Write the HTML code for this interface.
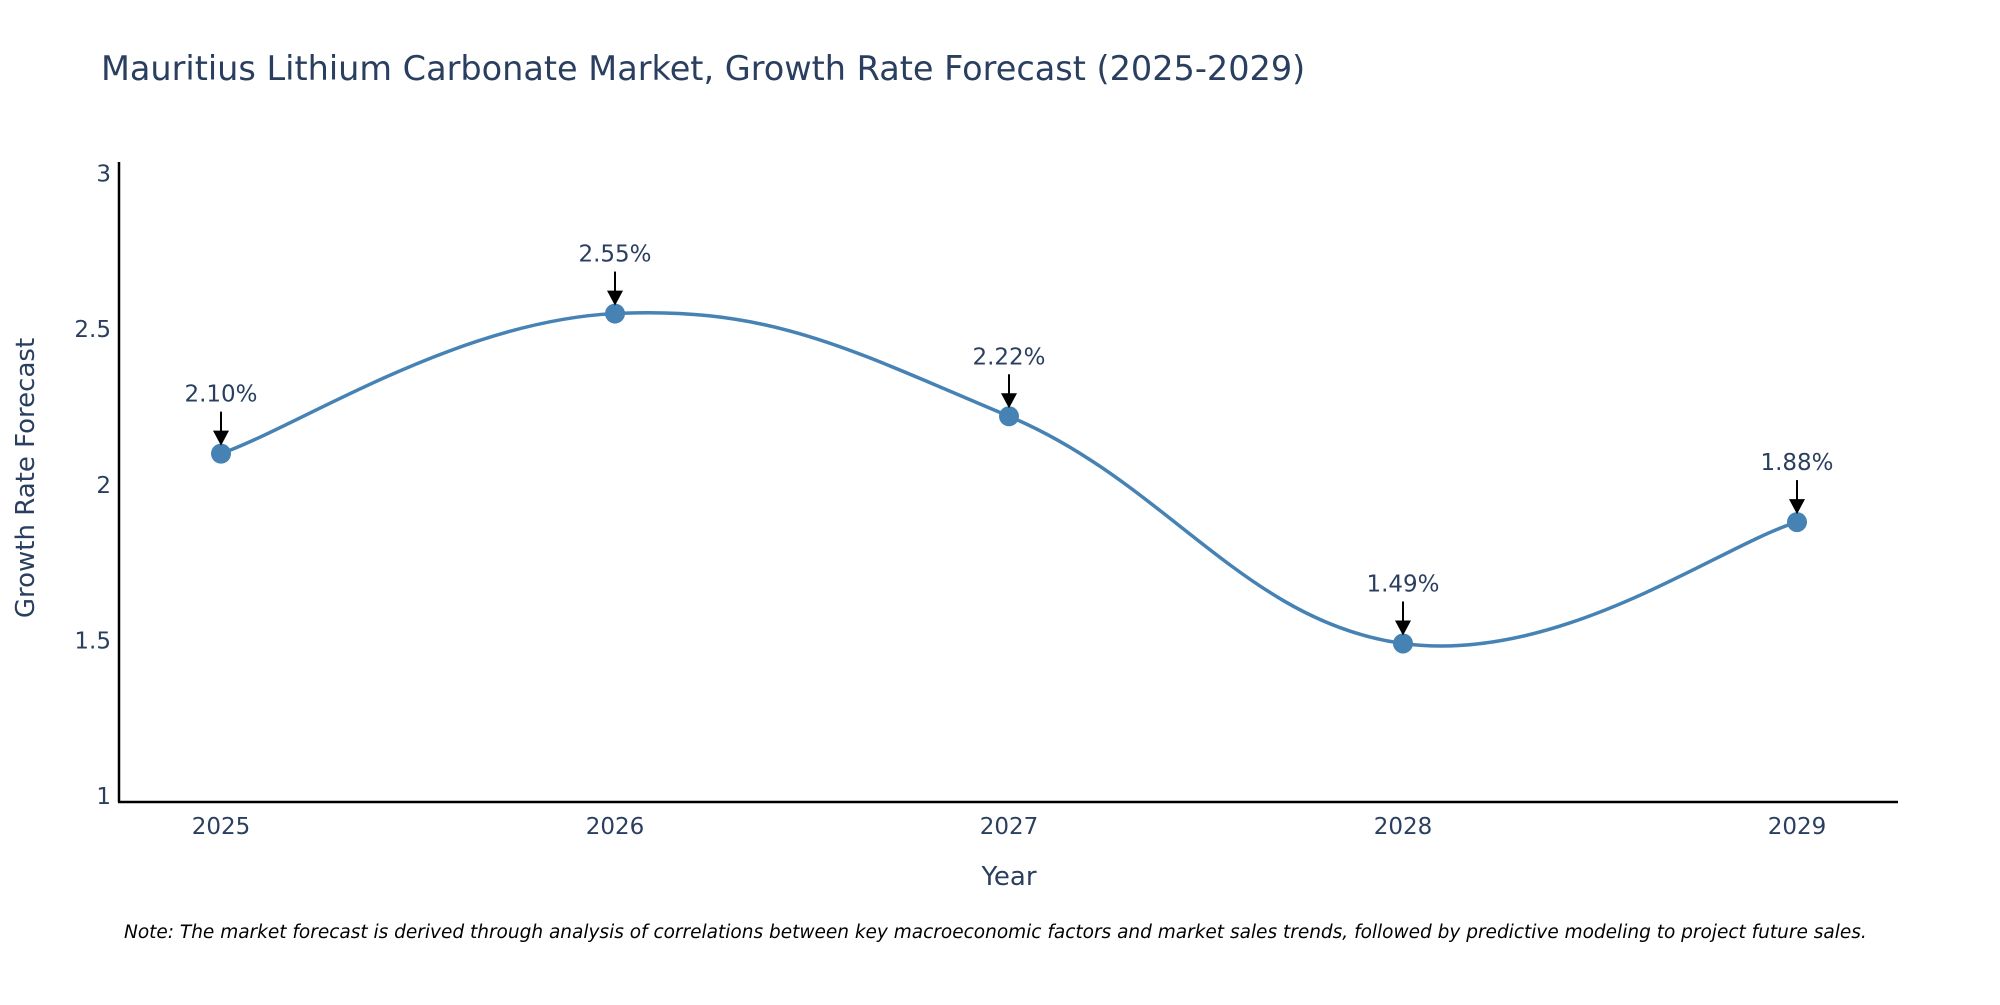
<!DOCTYPE html>
<html><head><meta charset="utf-8"><style>
body{margin:0;background:#fff;}
svg{font-family:"DejaVu Sans","Liberation Sans",sans-serif;}
</style></head><body>
<svg id="chart" width="2000" height="1000" viewBox="0 0 2000 1000" xmlns="http://www.w3.org/2000/svg">
<rect width="2000" height="1000" fill="#fff"/>
<text x="101" y="80" font-size="33.5" fill="#2a3f5f">Mauritius Lithium Carbonate Market, Growth Rate Forecast (2025-2029)</text>
<g id="yticks"></g>
<g id="xticks"></g>
<line x1="119" y1="162" x2="119" y2="802" stroke="#000" stroke-width="2.5"/>
<line x1="118" y1="802" x2="1898" y2="802" stroke="#000" stroke-width="2.5"/>
<text transform="translate(34,478) rotate(-90)" text-anchor="middle" font-size="26" fill="#2a3f5f">Growth Rate Forecast</text>
<text x="1009" y="885" text-anchor="middle" font-size="26" fill="#2a3f5f">Year</text>
<g id="series"></g>
<text x="124" y="938" font-size="18.5" font-style="italic" fill="#000">Note: The market forecast is derived through analysis of correlations between key macroeconomic factors and market sales trends, followed by predictive modeling to project future sales.</text>
</svg>
<script>
const years = ["2025","2026","2027","2028","2029"];
const values = [2.10, 2.55, 2.22, 1.49, 1.88];
const yTicks = [1, 1.5, 2, 2.5, 3];
const labels = ["2.10%","2.55%","2.22%","1.49%","1.88%"];

const NS = "http://www.w3.org/2000/svg";
function xPos(i){ return 221 + i * (1797 - 221) / (years.length - 1); }
function yPos(v){ return 796 - (v - 1) * (796 - 173.5) / 2; }
function mk(tag, attrs, parent){ const e = document.createElementNS(NS, tag); for (const k in attrs) e.setAttribute(k, attrs[k]); parent.appendChild(e); return e; }

const yt = document.getElementById("yticks");
yTicks.forEach(v => {
  const t = mk("text", {x: 111, y: yPos(v) + 8, "text-anchor": "end", "font-size": 23, fill: "#2a3f5f"}, yt);
  
  
  t.textContent = String(v);
});
const xt = document.getElementById("xticks");
years.forEach((y, i) => {
  const t = mk("text", {x: xPos(i), y: 834, "text-anchor": "middle", "font-size": 23, fill: "#2a3f5f"}, xt);
  
  
  t.textContent = y;
});

const g = document.getElementById("series");
const pts = values.map((v, i) => [xPos(i), yPos(v)]);
let d = "M" + pts[0][0] + "," + pts[0][1];
const s = 0.2;
for (let i = 0; i < pts.length - 1; i++) {
  const p0 = pts[Math.max(0, i - 1)], p1 = pts[i], p2 = pts[i + 1], p3 = pts[Math.min(pts.length - 1, i + 2)];
  const c1 = [p1[0] + (p2[0] - p0[0]) * s, p1[1] + (p2[1] - p0[1]) * s];
  const c2 = [p2[0] - (p3[0] - p1[0]) * s, p2[1] - (p3[1] - p1[1]) * s];
  d += " C" + c1 + " " + c2 + " " + p2;
}
const line = mk("path", {d: d, fill: "none", stroke: "#4682b4", "stroke-width": 3.5}, g);



pts.forEach((p, i) => {
  const c = mk("circle", {cx: p[0], cy: p[1], r: 10, fill: "#4682b4"}, g);
  
  
  const a = mk("line", {x1: p[0], y1: p[1] - 42, x2: p[0], y2: p[1] - 20, stroke: "#000", "stroke-width": 2}, g);
  
  
  const h = mk("polygon", {points: (p[0]-8)+","+(p[1]-23)+" "+(p[0]+8)+","+(p[1]-23)+" "+p[0]+","+(p[1]-8), fill: "#000"}, g);
  
  
  const t = mk("text", {x: p[0], y: p[1] - 52, "text-anchor": "middle", "font-size": 23, fill: "#2a3f5f"}, g);
  
  
  t.textContent = labels[i];
});
</script>
</body></html>
